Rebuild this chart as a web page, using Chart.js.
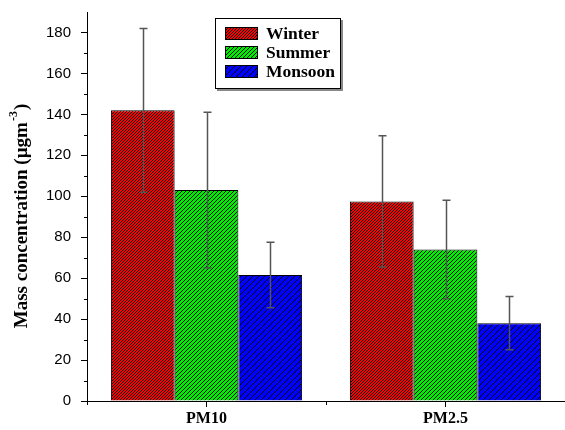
<!DOCTYPE html>
<html>
<head>
<meta charset="utf-8">
<script src="https://cdn.jsdelivr.net/npm/chart.js@4/dist/chart.umd.min.js"></script>
<style>
html,body{margin:0;padding:0;background:#fff;}
#wrap{width:565px;height:430px;position:relative;}
</style>
</head>
<body>
<div id="wrap"><canvas id="c" width="565" height="430"></canvas></div>
<script>
const categories = ['PM10', 'PM2.5'];
const seriesNames = ['Winter', 'Summer', 'Monsoon'];
const winter = [142, 97.5];
const summer = [103, 74];
const monsoon = [61.5, 38];
const winterErr = [40, 32];
const summerErr = [38, 24];
const monsoonErr = [16, 13];
const yTickValues = [0, 20, 40, 60, 80, 100, 120, 140, 160, 180];
const yMinorValues = [10, 30, 50, 70, 90, 110, 130, 150, 170];

const spacing = [3, 4, 6];

function makePattern(rgb, s, w) {
  const c = document.createElement('canvas');
  c.width = s; c.height = s;
  const g = c.getContext('2d');
  const img = g.createImageData(s, s);
  for (let yy = 0; yy < s; yy++) {
    for (let xx = 0; xx < s; xx++) {
      const k = (xx + yy) % s;
      const idx = (yy * s + xx) * 4;
      const dark = k < w;
      img.data[idx] = dark ? 0 : rgb[0];
      img.data[idx + 1] = dark ? 0 : rgb[1];
      img.data[idx + 2] = dark ? 0 : rgb[2];
      img.data[idx + 3] = 255;
    }
  }
  g.putImageData(img, 0, 0);
  const ctx = document.getElementById('c').getContext('2d');
  return ctx.createPattern(c, 'repeat');
}
const patterns = [
  makePattern([255, 0, 0], spacing[0], 1),
  makePattern([0, 238, 0], spacing[1], 1),
  makePattern([0, 0, 255], spacing[2], 1)
];
const errs = [winterErr, summerErr, monsoonErr];

const serif = '"Liberation Serif", "Times New Roman", serif';
const sans = '"Liberation Sans", Arial, sans-serif';

const decor = {
  id: 'decor',
  afterDatasetsDraw(chart) {
    const ctx = chart.ctx;
    const y = chart.scales.y;
    ctx.save();
    ctx.strokeStyle = '#555';
    ctx.lineWidth = 1.5;
    chart.data.datasets.forEach((ds, di) => {
      const meta = chart.getDatasetMeta(di);
      meta.data.forEach((bar, i) => {
        const v = ds.data[i], e = errs[di][i];
        const cx = Math.round(bar.x) + 0.5;
        const yt = y.getPixelForValue(v + e), yb = y.getPixelForValue(v - e);
        ctx.beginPath();
        ctx.moveTo(cx, yt); ctx.lineTo(cx, yb);
        ctx.moveTo(cx - 4, yt); ctx.lineTo(cx + 4, yt);
        ctx.moveTo(cx - 4, yb); ctx.lineTo(cx + 4, yb);
        ctx.stroke();
      });
    });
    ctx.restore();
  },
  afterDraw(chart) {
    const ctx = chart.ctx;
    const x = chart.scales.x, y = chart.scales.y;
    const area = chart.chartArea;
    ctx.save();
    ctx.strokeStyle = '#000';
    ctx.lineWidth = 1;
    ctx.beginPath();
    yMinorValues.forEach(v => {
      const py = Math.round(y.getPixelForValue(v)) + 0.5;
      ctx.moveTo(area.left - 3, py); ctx.lineTo(area.left, py);
    });
    const half = (x.getPixelForValue(1) - x.getPixelForValue(0)) / 2;
    [x.getPixelForValue(0) - half, x.getPixelForValue(0) + half].forEach(px => {
      px = Math.round(px) + 0.5;
      ctx.moveTo(px, area.bottom); ctx.lineTo(px, area.bottom + 4);
    });
    ctx.stroke();

    ctx.translate(22, 216);
    ctx.rotate(-Math.PI / 2);
    ctx.fillStyle = '#000';
    ctx.textBaseline = 'middle';
    const main = 'Mass concentration (\u00b5gm';
    const sup = '-3';
    const end = ')';
    ctx.font = 'bold 19px ' + serif;
    const wMain = ctx.measureText(main).width;
    const wEnd = ctx.measureText(end).width;
    ctx.font = 'bold 12px ' + serif;
    const wSup = ctx.measureText(sup).width;
    const total = wMain + wSup + wEnd + 2;
    let sx = -total / 2;
    ctx.font = 'bold 19px ' + serif;
    ctx.textAlign = 'left';
    ctx.fillText(main, sx, 0);
    sx += wMain + 1;
    ctx.font = 'bold 12px ' + serif;
    ctx.fillText(sup, sx, -8);
    sx += wSup + 1;
    ctx.font = 'bold 19px ' + serif;
    ctx.fillText(end, sx, 0);
    ctx.restore();

    ctx.save();
    const bx = 215, by = 18, bw = 126, bh = 71;
    ctx.fillStyle = '#888';
    ctx.fillRect(bx + 2, by + 2, bw, bh);
    ctx.fillStyle = '#fff';
    ctx.fillRect(bx, by, bw, bh);
    ctx.strokeStyle = '#000';
    ctx.lineWidth = 1;
    ctx.strokeRect(bx + 0.5, by + 0.5, bw - 1, bh - 1);
    ctx.font = 'bold 17.5px ' + serif;
    ctx.textBaseline = 'middle';
    ctx.textAlign = 'left';
    chart.data.datasets.forEach((ds, i) => {
      const cy = 33 + i * 19;
      ctx.fillStyle = ds.backgroundColor;
      ctx.fillRect(225, cy - 6, 33, 13);
      ctx.strokeStyle = '#000';
      ctx.strokeRect(225.5, cy - 5.5, 32, 12);
      ctx.fillStyle = '#000';
      ctx.fillText(ds.label, 266, cy + 1);
    });
    ctx.restore();
  }
};

new Chart(document.getElementById('c'), {
  type: 'bar',
  data: {
    labels: categories,
    datasets: [
      { label: seriesNames[0], data: winter, backgroundColor: patterns[0], borderColor: '#000', borderWidth: 1 },
      { label: seriesNames[1], data: summer, backgroundColor: patterns[1], borderColor: '#000', borderWidth: 1 },
      { label: seriesNames[2], data: monsoon, backgroundColor: patterns[2], borderColor: '#000', borderWidth: 1 }
    ]
  },
  options: {
    responsive: false,
    animation: false,
    devicePixelRatio: 1,
    layout: { padding: { top: 12, right: 0, left: 0, bottom: 0 } },
    datasets: { bar: { categoryPercentage: 0.8, barPercentage: 1.0 } },
    plugins: { legend: { display: false }, tooltip: { enabled: false } },
    scales: {
      x: {
        offset: true,
        grid: { display: true, drawOnChartArea: false, offset: false, tickLength: 6, color: '#000' },
        border: { display: true, color: '#000', width: 1 },
        ticks: { color: '#000', font: { family: serif, size: 16, weight: 'bold' }, padding: 2, maxRotation: 0 },
        afterFit(s) { s.height = 29; s.paddingLeft = 0; s.paddingRight = 0; }
      },
      y: {
        min: 0, max: 190,
        afterBuildTicks(s) { s.ticks = yTickValues.map(v => ({ value: v })); },
        grid: { display: true, drawOnChartArea: false, tickLength: 6, color: '#000' },
        border: { display: true, color: '#000', width: 1 },
        ticks: { color: '#000', font: { family: sans, size: 15 }, padding: 10 },
        afterFit(s) { s.width = 87; s.paddingTop = 0; s.paddingBottom = 0; }
      }
    }
  },
  plugins: [decor]
});
</script>
</body>
</html>
